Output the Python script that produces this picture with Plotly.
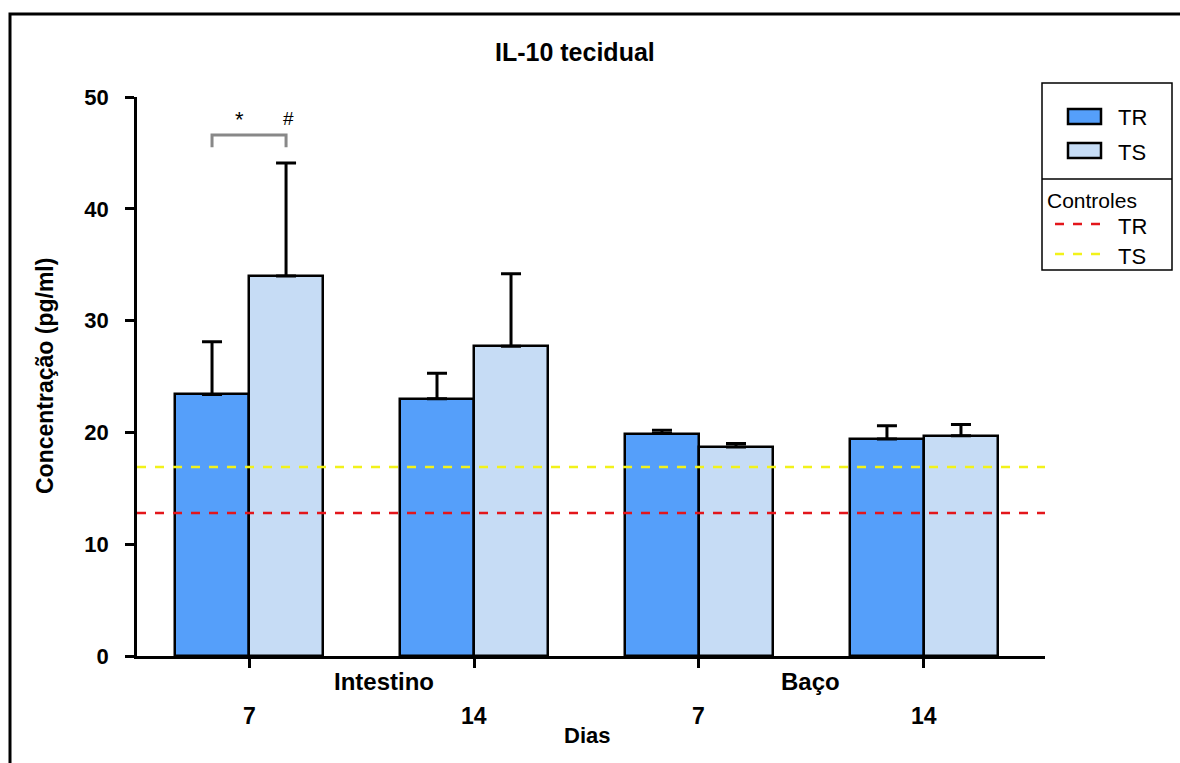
import plotly.graph_objects as go

# ---- data ----
groups = ["Intestino 7", "Intestino 14", "Baço 7", "Baço 14"]
day_labels = ["7", "14", "7", "14"]
tr_values = [23.4, 23.0, 19.9, 19.4]
tr_errors = [4.7, 2.3, 0.3, 1.2]
ts_values = [34.0, 27.7, 18.7, 19.7]
ts_errors = [10.1, 6.5, 0.3, 1.0]
control_tr = 12.8
control_ts = 16.9
y_ticks = [0, 10, 20, 30, 40, 50]

TR_COLOR = "#559ffa"
TS_COLOR = "#c6dcf5"
FONT = "Liberation Sans, Arial, sans-serif"

W, H = 1180, 763
L, R, T, B = 137, 1045, 97, 656  # plot area in pixels
xs = list(range(len(groups)))
bw = 0.329
xmin, xmax = -0.498, 3.538


def px(x):
    return (x - L) / (R - L)


def py(y):
    return (B - y) / (B - T)


fig = go.Figure()
fig.add_trace(go.Bar(
    x=xs, y=tr_values, width=bw, offset=-bw, name="TR",
    marker=dict(color=TR_COLOR, line=dict(color="black", width=2.5)),
    error_y=dict(type="data", array=tr_errors, arrayminus=[0] * 4, symmetric=False,
                 color="black", thickness=3, width=10),
    showlegend=False,
))
fig.add_trace(go.Bar(
    x=xs, y=ts_values, width=bw, offset=0, name="TS",
    marker=dict(color=TS_COLOR, line=dict(color="black", width=2.5)),
    error_y=dict(type="data", array=ts_errors, arrayminus=[0] * 4, symmetric=False,
                 color="black", thickness=3, width=10),
    showlegend=False,
))

shapes = []
# control lines
shapes.append(dict(type="line", xref="x", yref="y", x0=xmin, x1=xmax, y0=control_ts, y1=control_ts,
                   line=dict(color="#f2f21a", width=2.5, dash="dash"), layer="above"))
shapes.append(dict(type="line", xref="x", yref="y", x0=xmin, x1=xmax, y0=control_tr, y1=control_tr,
                   line=dict(color="#e3161b", width=2.5, dash="dash"), layer="above"))

# significance bracket over Intestino 7
bx0, bx1 = xs[0] - bw / 2, xs[0] + bw / 2
shapes.append(dict(type="path", xref="x", yref="y",
                   path=f"M {bx0},45.5 L {bx0},46.6 L {bx1},46.6 L {bx1},45.5",
                   line=dict(color="#888888", width=3)))

# outer frame
shapes.append(dict(type="rect", xref="paper", yref="paper",
                   x0=px(10), x1=px(1185), y0=py(14), y1=py(770),
                   line=dict(color="black", width=3), fillcolor="rgba(0,0,0,0)"))

# legend box
shapes.append(dict(type="rect", xref="paper", yref="paper",
                   x0=px(1042), x1=px(1172), y0=py(270), y1=py(83),
                   line=dict(color="black", width=1.5), fillcolor="white"))
shapes.append(dict(type="line", xref="paper", yref="paper",
                   x0=px(1042), x1=px(1172), y0=py(179), y1=py(179),
                   line=dict(color="black", width=1.5)))
shapes.append(dict(type="rect", xref="paper", yref="paper",
                   x0=px(1068), x1=px(1101), y0=py(124), y1=py(109),
                   line=dict(color="black", width=2.5), fillcolor=TR_COLOR))
shapes.append(dict(type="rect", xref="paper", yref="paper",
                   x0=px(1068), x1=px(1101), y0=py(158), y1=py(143),
                   line=dict(color="black", width=2.5), fillcolor=TS_COLOR))
shapes.append(dict(type="line", xref="paper", yref="paper",
                   x0=px(1055), x1=px(1108), y0=py(224), y1=py(224),
                   line=dict(color="#e3161b", width=2.5, dash="dash")))
shapes.append(dict(type="line", xref="paper", yref="paper",
                   x0=px(1055), x1=px(1108), y0=py(254), y1=py(254),
                   line=dict(color="#f2f21a", width=2.5, dash="dash")))

ann = []


def txt(text, x, y, size=16, bold=True, xanchor="center", xref="paper", yref="paper", color="black"):
    t = f"<b>{text}</b>" if bold else text
    ann.append(dict(text=t, x=x, y=y, xref=xref, yref=yref, showarrow=False,
                    xanchor=xanchor, yanchor="middle", font=dict(family=FONT, size=size, color=color)))


txt("IL-10 tecidual", px(575), py(52), size=25)
# day labels
for x, lab in zip(xs, day_labels):
    ann.append(dict(text=f"<b>{lab}</b>", x=x, y=py(716), xref="x", yref="paper", showarrow=False,
                    xanchor="center", yanchor="middle", font=dict(family=FONT, size=23)))
txt("Intestino", px(384), py(681), size=24)
txt("Baço", px(810), py(681), size=24)
txt("Dias", px(587), py(735), size=22)
txt("Concentração (pg/ml)", px(45), py(376), size=23)
ann[-1]["textangle"] = -90
# significance marks
txt("*", px(239), py(119), size=22, bold=False)
txt("#", px(288), py(118), size=19, bold=False)
# legend texts
txt("TR", px(1116), py(117), size=22, bold=False, xanchor="left")
txt("TS", px(1116), py(152), size=22, bold=False, xanchor="left")
txt("Controles", px(1045), py(200), size=21, bold=False, xanchor="left")
txt("TR", px(1116), py(227), size=22, bold=False, xanchor="left")
txt("TS", px(1116), py(256), size=22, bold=False, xanchor="left")

fig.update_layout(
    width=W, height=H,
    margin=dict(l=L, r=W - R, t=T, b=H - B, pad=0),
    paper_bgcolor="white", plot_bgcolor="white",
    bargap=0, barmode="overlay",
    shapes=shapes, annotations=ann,
    font=dict(family=FONT, color="black"),
    xaxis=dict(range=[xmin, xmax], tickvals=xs, ticktext=["", "", "", ""], ticks="outside",
               ticklen=9, tickwidth=2.5, tickcolor="black", showline=True, linecolor="black",
               linewidth=3, showgrid=False, zeroline=False, fixedrange=True),
    yaxis=dict(range=[0, 50], tickvals=y_ticks, ticktext=[f"<b>{v}</b>" for v in y_ticks],
               ticks="outside", ticklen=9, tickwidth=2.5, tickcolor="black", showline=True,
               linecolor="black", linewidth=2.5, showgrid=False, zeroline=False,
               tickfont=dict(family=FONT, size=22), ticklabelstandoff=12),
)

fig.write_html("out.html")
